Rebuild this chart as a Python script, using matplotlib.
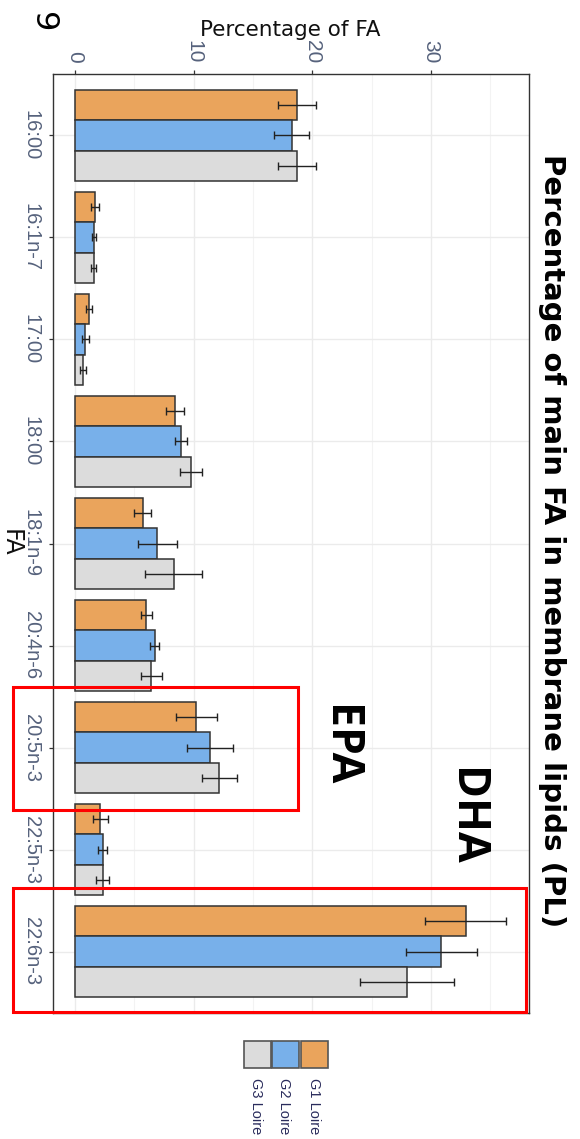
import numpy as np
import matplotlib
matplotlib.use("Agg")
import matplotlib.pyplot as plt
from matplotlib.patches import Rectangle

# data (percentage of FA, mean and sd)
fa = ['16:00', '16:1n-7', '17:00', '18:00', '18:1n-9', '20:4n-6', '20:5n-3', '22:5n-3', '22:6n-3']
groups = ['G1 Loire', 'G2 Loire', 'G3 Loire']
g1 = [18.70, 1.72, 1.18, 8.43, 5.71, 6.02, 10.23, 2.13, 32.94]
g1_sd = [1.60, 0.34, 0.28, 0.79, 0.70, 0.45, 1.71, 0.64, 3.41]
g2 = [18.26, 1.58, 0.87, 8.94, 6.95, 6.75, 11.38, 2.33, 30.87]
g2_sd = [1.48, 0.18, 0.28, 0.49, 1.66, 0.38, 1.94, 0.39, 3.00]
g3 = [18.70, 1.58, 0.68, 9.78, 8.32, 6.44, 12.18, 2.33, 28.00]
g3_sd = [1.60, 0.24, 0.25, 0.96, 2.37, 0.87, 1.48, 0.55, 3.95]
colors = ['#EAA45C', '#78B0EA', '#DCDCDC']

W, H = 580, 1139
fig = plt.figure(figsize=(W / 100, H / 100), dpi=100)

def fx(x):
    return x / W

def fy(y):
    return 1 - y / H

# axes box in pixels: left 53, right 528.5, top 74.3, bottom 1012.7
ax = fig.add_axes([fx(53.3), fy(1012.7), (528.5 - 53.3) / W, (1012.7 - 74.3) / H])

ypos = np.arange(len(fa))
bh = 0.3
series = [(g1, g1_sd), (g2, g2_sd), (g3, g3_sd)]
for k, (vals, sds) in enumerate(series):
    yy = ypos + (k - 1) * bh
    ax.barh(yy, vals, height=bh, color=colors[k], edgecolor='#333333', linewidth=1.1, zorder=2)
    ax.errorbar(vals, yy, xerr=sds, fmt='none', ecolor='#222222', elinewidth=1.0,
                capsize=2.8, capthick=1.0, zorder=3)

ax.set_xlim(-1.82, 38.23)
ax.set_ylim(len(fa) - 0.4, -0.6)

ax.xaxis.tick_top()
ax.set_xticks([0, 10, 20, 30])
ax.set_xticks([5, 15, 25, 35], minor=True)
ax.set_yticks(ypos)
ax.set_yticklabels(fa)

tick_font = 'Liberation Sans'
tick_col = '#56627c'
for lab in ax.get_xticklabels():
    lab.set_rotation(-90)
    lab.set_family(tick_font)
    lab.set_fontsize(15)
    lab.set_color(tick_col)
    lab.set_va('bottom')
for lab in ax.get_yticklabels():
    lab.set_rotation(-90)
    lab.set_family(tick_font)
    lab.set_fontsize(14.5)
    lab.set_color(tick_col)
    lab.set_va('center')

ax.tick_params(axis='x', which='major', length=3, width=0.9, color='#333333', pad=5)
ax.tick_params(axis='x', which='minor', length=0)
ax.tick_params(axis='y', length=3, width=0.9, color='#333333', pad=6)

ax.grid(True, which='major', color='#EBEBEB', linewidth=1.0)
ax.grid(True, which='minor', axis='x', color='#F3F3F3', linewidth=0.8)
ax.set_axisbelow(True)
for sp in ax.spines.values():
    sp.set_color('#333333')
    sp.set_linewidth(1.0)

# red highlight boxes around EPA and DHA
ax.add_patch(Rectangle((-5.24, 5.404), 24.04, 1.205, fill=False, edgecolor='#FF0000',
                       linewidth=2.2, clip_on=False, zorder=5))
ax.add_patch(Rectangle((-5.24, 7.374), 43.3, 1.22, fill=False, edgecolor='#FF0000',
                       linewidth=2.2, clip_on=False, zorder=5))

ax.text(22.3, 5.98, 'EPA', rotation=-90, ha='center', va='center', fontsize=32,
        fontweight='bold', family='Open Sans', color='black')
ax.text(32.96, 6.68, 'DHA', rotation=-90, ha='center', va='center', fontsize=32,
        fontweight='bold', family='Open Sans', color='black')

# titles
fig.text(fx(552), fy(541), 'Percentage of main FA in membrane lipids (PL)', rotation=-90,
         ha='center', va='center', fontsize=21, fontweight='bold', family='DejaVu Sans')
fig.text(fx(290.5), fy(30), 'Percentage of FA', ha='center', va='center', fontsize=15.5,
         family='DejaVu Sans', color='#111111')
fig.text(fx(11), fy(543), 'FA', rotation=-90, ha='center', va='center', fontsize=17,
         family='DejaVu Sans', color='#111111')
fig.text(fx(42), fy(22), '9', rotation=-90, ha='center', va='center', fontsize=23,
         family='DejaVu Sans', color='black')

# legend drawn by hand
key_x = [244, 272, 301]
leg_cols = [colors[2], colors[1], colors[0]]
leg_labels = [groups[2], groups[1], groups[0]]
for x0, c, lbl in zip(key_x, leg_cols, leg_labels):
    fig.patches.append(Rectangle((fx(x0), fy(1068)), 27 / W, 27 / H, transform=fig.transFigure,
                                 facecolor=c, edgecolor='#555555', linewidth=1.2))
    fig.text(fx(x0 + 12.5), fy(1078), lbl, rotation=-90, ha='center', va='top', fontsize=10.5,
             family='Liberation Sans', color='#2a2c5c')

fig.savefig('out.png', dpi=100)
